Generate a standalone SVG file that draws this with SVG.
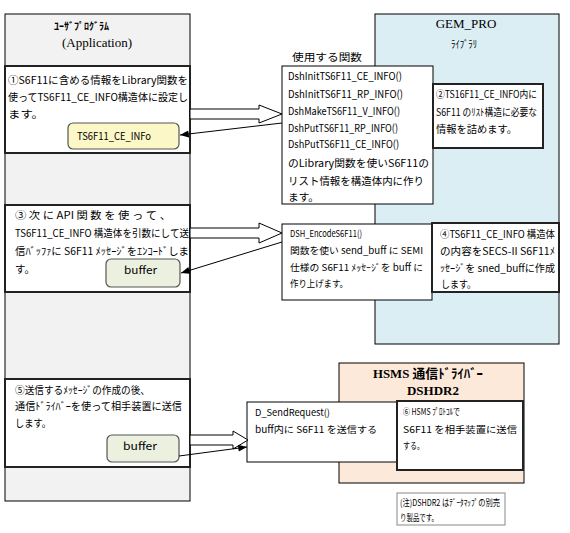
<svg xmlns="http://www.w3.org/2000/svg" width="570" height="533" viewBox="0 0 570 533">
<style>
.t{font-family:"Noto Sans CJK JP","Liberation Sans",sans-serif;font-size:10.5px;fill:#000}
.s10{font-size:10px}
.s95{font-size:9.5px}
.s9{font-size:9px}
.ttl{font-family:"Liberation Serif","Noto Sans CJK JP",serif;font-size:13px;fill:#000}
.b{font-weight:bold}
.col{stroke:#000;stroke-width:1}
.box{fill:#fff;stroke:#222;stroke-width:2}
.fbox{fill:#fff;stroke:#000;stroke-width:1}
.blk{fill:#fff;stroke:#000;stroke-width:1}
.thin{stroke:#000;stroke-width:1;fill:none;marker-end:url(#ah)}
</style>
<defs>
<marker id="ah" viewBox="0 0 10 8" refX="10" refY="4" markerWidth="9" markerHeight="7" markerUnits="userSpaceOnUse" orient="auto">
<path d="M0,0 L10,4 L0,8 Z" fill="#000"/>
</marker>
</defs>
<rect width="570" height="533" fill="#fff"/>

<g id="gem_pro">
<rect x="375" y="14" width="184" height="330" fill="#dbeef4" class="col"/>
<text class="ttl" x="466" y="28" text-anchor="middle">GEM_PRO</text>
<text class="t" x="451" y="48" font-size="13" textLength="26" lengthAdjust="spacingAndGlyphs">ﾗｲﾌﾞﾗﾘ</text>
</g>

<g id="hsms">
<rect x="339" y="363" width="185" height="120" fill="#fde9d9" class="col"/>
<text class="ttl b" x="373" y="378" textLength="110" lengthAdjust="spacingAndGlyphs">HSMS 通信ﾄﾞﾗｲﾊﾞｰ</text>
<text class="ttl b" x="433" y="395" text-anchor="middle" font-size="15">DSHDR2</text>
</g>

<g id="user_program">
<rect x="5" y="14" width="185" height="487" fill="#f2f2f2" class="col"/>
<text class="t b" x="54" y="30" font-size="14" textLength="55" lengthAdjust="spacingAndGlyphs">ﾕｰｻﾞﾌﾟﾛｸﾞﾗﾑ</text>
<text class="ttl" x="97" y="47" text-anchor="middle">(Application)</text>
</g>

<g id="step1">
<rect x="5" y="66" width="185" height="87" class="box"/>
<text class="t" x="8" y="84" textLength="180" lengthAdjust="spacingAndGlyphs">①S6F11に含める情報をLibrary関数を</text>
<text class="t" x="8" y="101" textLength="180" lengthAdjust="spacingAndGlyphs">使ってTS6F11_CE_INFO構造体に設定し</text>
<text class="t" x="8" y="118" textLength="36" lengthAdjust="spacingAndGlyphs">ます。</text>
</g>
<g id="ts6f11_box">
<rect x="68" y="123" width="111" height="26" rx="5" fill="#fbf7c6" stroke="#555" stroke-width="1.2"/>
<text class="t" x="77" y="140" textLength="74" lengthAdjust="spacingAndGlyphs">TS6F11_CE_INFo</text>
</g>

<g id="step3">
<rect x="5" y="205" width="185" height="87" class="box"/>
<text class="t" x="15" y="219" textLength="156" lengthAdjust="spacingAndGlyphs">③ 次 に API 関 数 を 使 っ て 、</text>
<text class="t" x="15" y="237" textLength="174" lengthAdjust="spacingAndGlyphs">TS6F11_CE_INFO 構造体を引数にして送</text>
<text class="t" x="15" y="255" textLength="174" lengthAdjust="spacingAndGlyphs">信ﾊﾞｯﾌｧに S6F11 ﾒｯｾｰｼﾞをｴﾝｺｰﾄﾞしま</text>
<text class="t" x="15" y="273" textLength="20" lengthAdjust="spacingAndGlyphs">す。</text>
</g>
<g id="buffer1">
<rect x="106" y="259" width="74" height="28" rx="5" fill="#ebf1de" stroke="#555" stroke-width="1.2"/>
<text class="t" x="124" y="274" textLength="33" lengthAdjust="spacingAndGlyphs">buffer</text>
</g>

<g id="step5">
<rect x="5" y="379" width="185" height="88" class="box"/>
<text class="t" x="15" y="394" textLength="135" lengthAdjust="spacingAndGlyphs">⑤送信するﾒｯｾｰｼﾞの作成の後、</text>
<text class="t" x="15" y="410" textLength="167" lengthAdjust="spacingAndGlyphs">通信ﾄﾞﾗｲﾊﾞｰを使って相手装置に送信</text>
<text class="t" x="15" y="427" textLength="36" lengthAdjust="spacingAndGlyphs">します。</text>
</g>
<g id="buffer2">
<rect x="107" y="435" width="72" height="27" rx="5" fill="#ebf1de" stroke="#555" stroke-width="1.2"/>
<text class="t" x="123" y="450" textLength="34" lengthAdjust="spacingAndGlyphs">buffer</text>
</g>

<g id="func1">
<text class="t" x="292" y="61" textLength="70" lengthAdjust="spacingAndGlyphs">使用する関数</text>
<rect x="282" y="66" width="151" height="138" class="fbox"/>
<text class="t" x="288" y="80" textLength="114" lengthAdjust="spacingAndGlyphs">DshInitTS6F11_CE_INFO()</text>
<text class="t" x="288" y="98" textLength="115" lengthAdjust="spacingAndGlyphs">DshInitTS6F11_RP_INFO()</text>
<text class="t" x="288" y="115" textLength="112" lengthAdjust="spacingAndGlyphs">DshMakeTS6F11_V_INFO()</text>
<text class="t" x="288" y="132" textLength="110" lengthAdjust="spacingAndGlyphs">DshPutTS6F11_RP_INFO()</text>
<text class="t" x="288" y="148" textLength="111" lengthAdjust="spacingAndGlyphs">DshPutTS6F11_CE_INFO()</text>
<text class="t" x="288" y="167" textLength="141" lengthAdjust="spacingAndGlyphs">のLibrary関数を使いS6F11の</text>
<text class="t" x="288" y="185" textLength="136" lengthAdjust="spacingAndGlyphs">リスト情報を構造体内に作り</text>
<text class="t" x="288" y="201" textLength="31" lengthAdjust="spacingAndGlyphs">ます。</text>
</g>

<g id="step2">
<rect x="433" y="84" width="110" height="64" class="box"/>
<text class="t s10" x="436" y="98" textLength="101" lengthAdjust="spacingAndGlyphs">②TS16F11_CE_INFO内に</text>
<text class="t s10" x="436" y="116" textLength="101" lengthAdjust="spacingAndGlyphs">S6F11 のﾘｽﾄ構造に必要な</text>
<text class="t s10" x="436" y="133" textLength="81" lengthAdjust="spacingAndGlyphs">情報を詰めます。</text>
</g>

<g id="func2">
<rect x="282" y="224" width="150" height="76" class="fbox"/>
<text class="t s95" x="290" y="237" textLength="72" lengthAdjust="spacingAndGlyphs">DSH_EncodeS6F11()</text>
<text class="t s95" x="290" y="254" textLength="133" lengthAdjust="spacingAndGlyphs">関数を使い send_buff に SEMI</text>
<text class="t s95" x="290" y="271" textLength="133" lengthAdjust="spacingAndGlyphs">仕様の S6F11 ﾒｯｾｰｼﾞを buff に</text>
<text class="t s95" x="290" y="287" textLength="58" lengthAdjust="spacingAndGlyphs">作り上げます。</text>
</g>

<g id="step4">
<rect x="432" y="223" width="127" height="69" class="box"/>
<text class="t s10" x="440" y="238" textLength="115" lengthAdjust="spacingAndGlyphs">④TS6F11_CE_INFO 構造体</text>
<text class="t s10" x="440" y="255" textLength="115" lengthAdjust="spacingAndGlyphs">の内容をSECS-II S6F11ﾒ</text>
<text class="t s10" x="440" y="272" textLength="115" lengthAdjust="spacingAndGlyphs">ｯｾｰｼﾞを sned_buffに作成</text>
<text class="t s10" x="441" y="288" textLength="35" lengthAdjust="spacingAndGlyphs">します。</text>
</g>

<g id="dsend">
<rect x="247" y="402" width="151" height="60" class="fbox"/>
<text class="t s95" x="255" y="416" textLength="75" lengthAdjust="spacingAndGlyphs">D_SendRequest()</text>
<text class="t s95" x="255" y="433" textLength="122" lengthAdjust="spacingAndGlyphs">buff内に S6F11 を送信する</text>
</g>

<g id="step6">
<rect x="397" y="401" width="126" height="69" class="box"/>
<text class="t s9" x="403" y="415" textLength="57" lengthAdjust="spacingAndGlyphs">⑥ HSMS ﾌﾟﾛﾄｺﾙで</text>
<text class="t s95" x="403" y="433" textLength="114" lengthAdjust="spacingAndGlyphs">S6F11 を相手装置に送信</text>
<text class="t s95" x="403" y="449" textLength="21" lengthAdjust="spacingAndGlyphs">する。</text>
</g>

<g id="note">
<rect x="397" y="493" width="108" height="32" fill="#fff" stroke="#888" stroke-width="1"/>
<text class="t s9" x="400" y="506" textLength="100" lengthAdjust="spacingAndGlyphs">(注)DSHDR2 はﾃﾞｰﾀﾏｯﾌﾟの別売</text>
<text class="t s9" x="400" y="521" textLength="38" lengthAdjust="spacingAndGlyphs">り製品です。</text>
</g>

<g id="connectors">
<polygon class="blk" points="190,109 259,109 259,105 282,114 259,123 259,119 190,119"/>
<line class="thin" x1="282" y1="123" x2="180" y2="135"/>
<polygon class="blk" points="190,228 259,228 259,223 282,233 259,243 259,238 190,238"/>
<line class="thin" x1="282" y1="242" x2="181" y2="273"/>
<polygon class="blk" points="190,435 233,435 233,431 248,440 233,449 233,445 190,445"/>
<line class="thin" x1="179" y1="456" x2="247" y2="447"/>
</g>
</svg>
